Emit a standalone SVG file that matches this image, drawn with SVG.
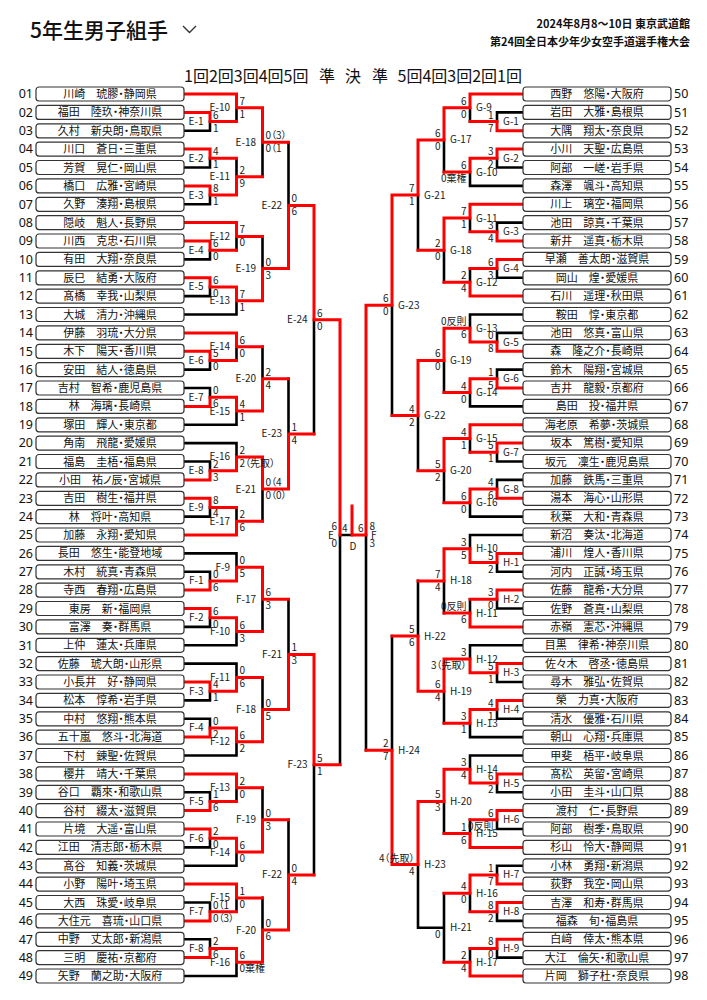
<svg xmlns="http://www.w3.org/2000/svg" width="707" height="1000" viewBox="0 0 707 1000">
<style>
text{font-family:"Noto Sans CJK JP","Noto Sans",sans-serif;fill:#111}
.b{fill:#fff;stroke:#333;stroke-width:1.2}
.n{font-size:11px;text-anchor:middle;font-feature-settings:"palt"}
.nl{font-family:"Noto Sans","Noto Sans CJK JP",sans-serif;font-size:12.5px;text-anchor:end}
.nr{font-family:"Noto Sans","Noto Sans CJK JP",sans-serif;font-size:12.5px}
.ll,.lr,.sl,.sr{font-size:10px;font-feature-settings:"palt";fill:#1a1a1a}
.ll,.sr{text-anchor:end}
.k{fill:none;stroke:#000;stroke-width:2.6;stroke-linecap:square}
.r{fill:none;stroke:#f00;stroke-width:3;stroke-linecap:square}
.t{font-size:21px;font-weight:500}
.h{font-size:11px;font-weight:700;text-anchor:end}
.c{font-size:16px}
</style>
<g id="header">
<text class="t" x="30" y="38">5年生男子組手</text>
<path d="M183 26l6.5 6.5l6.5-6.5" fill="none" stroke="#333" stroke-width="1.4"/>
<text class="h" x="690" y="28">2024年8月8～10日 東京武道館</text>
<text class="h" x="690" y="46">第24回全日本少年少女空手道選手権大会</text>
<text class="c" x="184" y="82">1回2回3回4回5回</text>
<text class="c" x="327" y="82" text-anchor="middle">準</text>
<text class="c" x="353" y="82" text-anchor="middle">決</text>
<text class="c" x="380" y="82" text-anchor="middle">準</text>
<text class="c" x="522" y="82" text-anchor="end">5回4回3回2回1回</text>
</g>
<g id="connectors">
<path class="k" d="M184 130.8H210M184 167.5H210M184 204.3H210M184 259.4H210M184 296.1H210M184 314.5H236.5M184 369.6H210M184 388H210M184 424.8H236.5M184 443.1H236.5M184 461.5H210M184 516.6H210
M210 121.6V130.8M210 158.3V167.5M210 195.1V204.3M210 250.2V259.4M210 286.9V296.1M210 360.4V369.6M210 388V397.2M210 461.5V470.7M210 507.4V516.6
M236.5 107.8V121.6M236.5 158.3V176.7M236.5 236.4V250.2M236.5 300.7V314.5M236.5 346.7V360.4M236.5 411V424.8M236.5 443.1V456.9M236.5 507.4V521.2
M262.5 142.2V176.7M262.5 236.4V268.6M262.5 346.7V378.8M262.5 489.1V521.2M288.5 142.2V205.4M288.5 378.8V433.9M314 319.7V433.9
M184 553.4H236.5M184 571.8H210M184 626.9H210M184 645.3H236.5M184 663.6H236.5M184 700.4H210M184 718.8H210M184 755.5H236.5M184 792.3H210M184 847.4H210M184 865.8H236.5M184 902.5H210M184 939.3H210M184 976H236.5
M210 571.8V580.9M210 617.7V626.9M210 691.2V700.4M210 718.8V727.9M210 792.3V801.4M210 838.2V847.4M210 902.5V911.7M210 939.3V948.4
M236.5 553.4V567.2M236.5 631.5V645.3M236.5 663.6V677.4M236.5 741.7V755.5M236.5 787.7V801.4M236.5 852V865.8M236.5 897.9V911.7M236.5 962.2V976
M262.5 599.3V631.5M262.5 677.4V709.6M262.5 787.7V819.8M262.5 897.9V930.1M288.5 599.3V654.4M288.5 819.8V874.9M314 764.7V874.9
M340 535V764.7M340 535H352M366 535V750.3
M523 112.4H497M523 167.5H497M523 185.9H470M523 222.6H497M523 277.8H497M523 314.5H470M523 332.9H497M523 369.6H497M523 406.4H470M523 461.5H497M523 479.9H497M523 516.6H470
M497 112.4V121.6M497 158.3V167.5M497 222.6V231.8M497 268.6V277.8M497 332.9V342.1M497 369.6V378.8M497 452.3V461.5M497 479.9V489.1
M470 107.8V121.6M470 172.1V185.9M470 218V231.8M470 268.6V282.3M470 314.5V328.3M470 392.6V406.4M470 438.5V452.3M470 502.8V516.6
M444 139.9V172.1M444 250.2V282.3M444 360.4V392.6M444 470.7V502.8M418 195.1V250.2M418 415.6V470.7M392 305.3V415.6
M523 535H470M523 571.8H497M523 608.5H497M523 645.3H470M523 682H497M523 718.8H497M523 737.1H470M523 755.5H470M523 792.3H497M523 829H497M523 865.8H497M523 920.9H497M523 957.6H497
M497 562.6V571.8M497 599.3V608.5M497 672.8V682M497 709.6V718.8M497 783.1V792.3M497 819.8V829M497 865.8V874.9M497 911.7V920.9M497 948.4V957.6
M470 535V548.8M470 599.3V613.1M470 645.3V659M470 723.3V737.1M470 755.5V769.3M470 819.8V833.6M470 893.3V911.7M470 948.4V962.2
M444 580.9V613.1M444 691.2V723.3M444 801.4V833.6M444 893.3V962.2M444 927.8H418M418 580.9V636.1M418 864.6V927.8M392 636.1V750.3"/>
<path class="r" d="M184 94H236.5M184 112.4H210M184 149.1H210M184 185.9H210M184 222.6H236.5M184 241H210M184 277.8H210M184 332.9H236.5M184 351.3H210M184 406.4H210M184 479.9H210M184 498.3H210M184 535H236.5
M210 112.4V121.6H236.5M210 149.1V158.3H236.5M210 185.9V195.1H236.5M210 241V250.2H236.5M210 277.8V286.9H236.5M210 351.3V360.4H236.5M210 406.4V397.2H236.5M210 479.9V470.7H236.5M210 498.3V507.4H236.5
M236.5 94V107.8H262.5M236.5 195.1V176.7H262.5M236.5 222.6V236.4H262.5M236.5 286.9V300.7H262.5M236.5 332.9V346.7H262.5M236.5 397.2V411H262.5M236.5 470.7V456.9H262.5M236.5 535V521.2H262.5
M262.5 107.8V142.2H288.5M262.5 300.7V268.6H288.5M262.5 411V378.8H288.5M262.5 456.9V489.1H288.5M288.5 268.6V205.4H314M288.5 489.1V433.9H314M314 205.4V319.7H340V535
M184 590.1H210M184 608.5H210M184 682H210M184 737.1H210M184 773.9H236.5M184 810.6H210M184 829H210M184 884.1H236.5M184 920.9H210M184 957.6H210
M210 590.1V580.9H236.5M210 608.5V617.7H236.5M210 682V691.2H236.5M210 737.1V727.9H236.5M210 810.6V801.4H236.5M210 829V838.2H236.5M210 920.9V911.7H236.5M210 957.6V948.4H236.5
M236.5 580.9V567.2H262.5M236.5 617.7V631.5H262.5M236.5 691.2V677.4H262.5M236.5 727.9V741.7H262.5M236.5 773.9V787.7H262.5M236.5 838.2V852H262.5M236.5 884.1V897.9H262.5M236.5 948.4V962.2H262.5
M262.5 567.2V599.3H288.5M262.5 741.7V709.6H288.5M262.5 852V819.8H288.5M262.5 962.2V930.1H288.5M288.5 709.6V654.4H314M288.5 930.1V874.9H314M314 654.4V764.7H340
M352 535H366M352 506V535M366 305.3V535
M523 94H470M523 130.8H497M523 149.1H497M523 204.3H470M523 241H497M523 259.4H497M523 296.1H470M523 351.3H497M523 388H497M523 424.8H470M523 443.1H497M523 498.3H497
M497 130.8V121.6H470M497 149.1V158.3H470M497 241V231.8H470M497 259.4V268.6H470M497 351.3V342.1H470M497 388V378.8H470M497 443.1V452.3H470M497 498.3V489.1H470
M470 94V107.8H444M470 158.3V172.1H444M470 204.3V218H444M470 296.1V282.3H444M470 342.1V328.3H444M470 378.8V392.6H444M470 424.8V438.5H444M470 489.1V502.8H444
M444 107.8V139.9H418M444 218V250.2H418M444 328.3V360.4H418M444 438.5V470.7H418M418 139.9V195.1H392M418 360.4V415.6H392M392 195.1V305.3H366
M523 553.4H497M523 590.1H497M523 626.9H470M523 663.6H497M523 700.4H497M523 773.9H497M523 810.6H497M523 847.4H470M523 884.1H497M523 902.5H497M523 939.3H497M523 976H470
M497 553.4V562.6H470M497 590.1V599.3H470M497 663.6V672.8H470M497 700.4V709.6H470M497 773.9V783.1H470M497 810.6V819.8H470M497 884.1V874.9H470M497 902.5V911.7H470M497 939.3V948.4H470
M470 562.6V548.8H444M470 626.9V613.1H444M470 672.8V659H444M470 709.6V723.3H444M470 783.1V769.3H444M470 847.4V833.6H444M470 874.9V893.3H444M470 976V962.2H444
M444 548.8V580.9H418M444 659V691.2H418M444 769.3V801.4H418M418 691.2V636.1H392M418 801.4V864.6H392M392 864.6V750.3H366"/>
</g>
<g id="players-left">
<g id="p01" transform="translate(0 94)"><rect class="b" x="36" y="-7" width="148" height="14" rx="3"/><text class="nl" x="33" y="4.3">01</text><text class="n" x="110" y="4">川崎　琥膠・静岡県</text></g>
<g id="p02" transform="translate(0 112.4)"><rect class="b" x="36" y="-7" width="148" height="14" rx="3"/><text class="nl" x="33" y="4.3">02</text><text class="n" x="110" y="4">福田　陸玖・神奈川県</text></g>
<g id="p03" transform="translate(0 130.8)"><rect class="b" x="36" y="-7" width="148" height="14" rx="3"/><text class="nl" x="33" y="4.3">03</text><text class="n" x="110" y="4">久村　新央朗・鳥取県</text></g>
<g id="p04" transform="translate(0 149.1)"><rect class="b" x="36" y="-7" width="148" height="14" rx="3"/><text class="nl" x="33" y="4.3">04</text><text class="n" x="110" y="4">川口　蒼日・三重県</text></g>
<g id="p05" transform="translate(0 167.5)"><rect class="b" x="36" y="-7" width="148" height="14" rx="3"/><text class="nl" x="33" y="4.3">05</text><text class="n" x="110" y="4">芳賀　晃仁・岡山県</text></g>
<g id="p06" transform="translate(0 185.9)"><rect class="b" x="36" y="-7" width="148" height="14" rx="3"/><text class="nl" x="33" y="4.3">06</text><text class="n" x="110" y="4">橋口　広雅・宮崎県</text></g>
<g id="p07" transform="translate(0 204.3)"><rect class="b" x="36" y="-7" width="148" height="14" rx="3"/><text class="nl" x="33" y="4.3">07</text><text class="n" x="110" y="4">久野　湊翔・島根県</text></g>
<g id="p08" transform="translate(0 222.6)"><rect class="b" x="36" y="-7" width="148" height="14" rx="3"/><text class="nl" x="33" y="4.3">08</text><text class="n" x="110" y="4">隠岐　魁人・長野県</text></g>
<g id="p09" transform="translate(0 241)"><rect class="b" x="36" y="-7" width="148" height="14" rx="3"/><text class="nl" x="33" y="4.3">09</text><text class="n" x="110" y="4">川西　克忠・石川県</text></g>
<g id="p10" transform="translate(0 259.4)"><rect class="b" x="36" y="-7" width="148" height="14" rx="3"/><text class="nl" x="33" y="4.3">10</text><text class="n" x="110" y="4">有田　大翔・奈良県</text></g>
<g id="p11" transform="translate(0 277.8)"><rect class="b" x="36" y="-7" width="148" height="14" rx="3"/><text class="nl" x="33" y="4.3">11</text><text class="n" x="110" y="4">辰巳　結勇・大阪府</text></g>
<g id="p12" transform="translate(0 296.1)"><rect class="b" x="36" y="-7" width="148" height="14" rx="3"/><text class="nl" x="33" y="4.3">12</text><text class="n" x="110" y="4">髙橋　幸我・山梨県</text></g>
<g id="p13" transform="translate(0 314.5)"><rect class="b" x="36" y="-7" width="148" height="14" rx="3"/><text class="nl" x="33" y="4.3">13</text><text class="n" x="110" y="4">大城　清力・沖縄県</text></g>
<g id="p14" transform="translate(0 332.9)"><rect class="b" x="36" y="-7" width="148" height="14" rx="3"/><text class="nl" x="33" y="4.3">14</text><text class="n" x="110" y="4">伊藤　羽琉・大分県</text></g>
<g id="p15" transform="translate(0 351.3)"><rect class="b" x="36" y="-7" width="148" height="14" rx="3"/><text class="nl" x="33" y="4.3">15</text><text class="n" x="110" y="4">木下　陽天・香川県</text></g>
<g id="p16" transform="translate(0 369.6)"><rect class="b" x="36" y="-7" width="148" height="14" rx="3"/><text class="nl" x="33" y="4.3">16</text><text class="n" x="110" y="4">安田　結人・徳島県</text></g>
<g id="p17" transform="translate(0 388)"><rect class="b" x="36" y="-7" width="148" height="14" rx="3"/><text class="nl" x="33" y="4.3">17</text><text class="n" x="110" y="4">吉村　智希・鹿児島県</text></g>
<g id="p18" transform="translate(0 406.4)"><rect class="b" x="36" y="-7" width="148" height="14" rx="3"/><text class="nl" x="33" y="4.3">18</text><text class="n" x="110" y="4">林　海璃・長崎県</text></g>
<g id="p19" transform="translate(0 424.8)"><rect class="b" x="36" y="-7" width="148" height="14" rx="3"/><text class="nl" x="33" y="4.3">19</text><text class="n" x="110" y="4">塚田　輝人・東京都</text></g>
<g id="p20" transform="translate(0 443.1)"><rect class="b" x="36" y="-7" width="148" height="14" rx="3"/><text class="nl" x="33" y="4.3">20</text><text class="n" x="110" y="4">角南　飛龍・愛媛県</text></g>
<g id="p21" transform="translate(0 461.5)"><rect class="b" x="36" y="-7" width="148" height="14" rx="3"/><text class="nl" x="33" y="4.3">21</text><text class="n" x="110" y="4">福島　圭梧・福島県</text></g>
<g id="p22" transform="translate(0 479.9)"><rect class="b" x="36" y="-7" width="148" height="14" rx="3"/><text class="nl" x="33" y="4.3">22</text><text class="n" x="110" y="4">小田　祐ノ辰・宮城県</text></g>
<g id="p23" transform="translate(0 498.3)"><rect class="b" x="36" y="-7" width="148" height="14" rx="3"/><text class="nl" x="33" y="4.3">23</text><text class="n" x="110" y="4">吉田　樹生・福井県</text></g>
<g id="p24" transform="translate(0 516.6)"><rect class="b" x="36" y="-7" width="148" height="14" rx="3"/><text class="nl" x="33" y="4.3">24</text><text class="n" x="110" y="4">林　将叶・高知県</text></g>
<g id="p25" transform="translate(0 535)"><rect class="b" x="36" y="-7" width="148" height="14" rx="3"/><text class="nl" x="33" y="4.3">25</text><text class="n" x="110" y="4">加藤　永翔・愛知県</text></g>
<g id="p26" transform="translate(0 553.4)"><rect class="b" x="36" y="-7" width="148" height="14" rx="3"/><text class="nl" x="33" y="4.3">26</text><text class="n" x="110" y="4">長田　悠生・能登地域</text></g>
<g id="p27" transform="translate(0 571.8)"><rect class="b" x="36" y="-7" width="148" height="14" rx="3"/><text class="nl" x="33" y="4.3">27</text><text class="n" x="110" y="4">木村　統真・青森県</text></g>
<g id="p28" transform="translate(0 590.1)"><rect class="b" x="36" y="-7" width="148" height="14" rx="3"/><text class="nl" x="33" y="4.3">28</text><text class="n" x="110" y="4">寺西　春翔・広島県</text></g>
<g id="p29" transform="translate(0 608.5)"><rect class="b" x="36" y="-7" width="148" height="14" rx="3"/><text class="nl" x="33" y="4.3">29</text><text class="n" x="110" y="4">東房　新・福岡県</text></g>
<g id="p30" transform="translate(0 626.9)"><rect class="b" x="36" y="-7" width="148" height="14" rx="3"/><text class="nl" x="33" y="4.3">30</text><text class="n" x="110" y="4">富澤　奏・群馬県</text></g>
<g id="p31" transform="translate(0 645.3)"><rect class="b" x="36" y="-7" width="148" height="14" rx="3"/><text class="nl" x="33" y="4.3">31</text><text class="n" x="110" y="4">上仲　蓮太・兵庫県</text></g>
<g id="p32" transform="translate(0 663.6)"><rect class="b" x="36" y="-7" width="148" height="14" rx="3"/><text class="nl" x="33" y="4.3">32</text><text class="n" x="110" y="4">佐藤　琥大朗・山形県</text></g>
<g id="p33" transform="translate(0 682)"><rect class="b" x="36" y="-7" width="148" height="14" rx="3"/><text class="nl" x="33" y="4.3">33</text><text class="n" x="110" y="4">小長井　好・静岡県</text></g>
<g id="p34" transform="translate(0 700.4)"><rect class="b" x="36" y="-7" width="148" height="14" rx="3"/><text class="nl" x="33" y="4.3">34</text><text class="n" x="110" y="4">松本　惇希・岩手県</text></g>
<g id="p35" transform="translate(0 718.8)"><rect class="b" x="36" y="-7" width="148" height="14" rx="3"/><text class="nl" x="33" y="4.3">35</text><text class="n" x="110" y="4">中村　悠翔・熊本県</text></g>
<g id="p36" transform="translate(0 737.1)"><rect class="b" x="36" y="-7" width="148" height="14" rx="3"/><text class="nl" x="33" y="4.3">36</text><text class="n" x="110" y="4">五十嵐　悠斗・北海道</text></g>
<g id="p37" transform="translate(0 755.5)"><rect class="b" x="36" y="-7" width="148" height="14" rx="3"/><text class="nl" x="33" y="4.3">37</text><text class="n" x="110" y="4">下村　錬聖・佐賀県</text></g>
<g id="p38" transform="translate(0 773.9)"><rect class="b" x="36" y="-7" width="148" height="14" rx="3"/><text class="nl" x="33" y="4.3">38</text><text class="n" x="110" y="4">櫻井　靖大・千葉県</text></g>
<g id="p39" transform="translate(0 792.3)"><rect class="b" x="36" y="-7" width="148" height="14" rx="3"/><text class="nl" x="33" y="4.3">39</text><text class="n" x="110" y="4">谷口　覇來・和歌山県</text></g>
<g id="p40" transform="translate(0 810.6)"><rect class="b" x="36" y="-7" width="148" height="14" rx="3"/><text class="nl" x="33" y="4.3">40</text><text class="n" x="110" y="4">谷村　綴太・滋賀県</text></g>
<g id="p41" transform="translate(0 829)"><rect class="b" x="36" y="-7" width="148" height="14" rx="3"/><text class="nl" x="33" y="4.3">41</text><text class="n" x="110" y="4">片境　大遥・富山県</text></g>
<g id="p42" transform="translate(0 847.4)"><rect class="b" x="36" y="-7" width="148" height="14" rx="3"/><text class="nl" x="33" y="4.3">42</text><text class="n" x="110" y="4">江田　清志郎・栃木県</text></g>
<g id="p43" transform="translate(0 865.8)"><rect class="b" x="36" y="-7" width="148" height="14" rx="3"/><text class="nl" x="33" y="4.3">43</text><text class="n" x="110" y="4">髙谷　知義・茨城県</text></g>
<g id="p44" transform="translate(0 884.1)"><rect class="b" x="36" y="-7" width="148" height="14" rx="3"/><text class="nl" x="33" y="4.3">44</text><text class="n" x="110" y="4">小野　陽叶・埼玉県</text></g>
<g id="p45" transform="translate(0 902.5)"><rect class="b" x="36" y="-7" width="148" height="14" rx="3"/><text class="nl" x="33" y="4.3">45</text><text class="n" x="110" y="4">大西　珠愛・岐阜県</text></g>
<g id="p46" transform="translate(0 920.9)"><rect class="b" x="36" y="-7" width="148" height="14" rx="3"/><text class="nl" x="33" y="4.3">46</text><text class="n" x="110" y="4">大住元　喜琉・山口県</text></g>
<g id="p47" transform="translate(0 939.3)"><rect class="b" x="36" y="-7" width="148" height="14" rx="3"/><text class="nl" x="33" y="4.3">47</text><text class="n" x="110" y="4">中野　丈太郎・新潟県</text></g>
<g id="p48" transform="translate(0 957.6)"><rect class="b" x="36" y="-7" width="148" height="14" rx="3"/><text class="nl" x="33" y="4.3">48</text><text class="n" x="110" y="4">三明　慶祐・京都府</text></g>
<g id="p49" transform="translate(0 976)"><rect class="b" x="36" y="-7" width="148" height="14" rx="3"/><text class="nl" x="33" y="4.3">49</text><text class="n" x="110" y="4">矢野　蘭之助・大阪府</text></g>
</g>
<g id="players-right">
<g id="p50" transform="translate(0 94)"><rect class="b" x="523" y="-7" width="148" height="14" rx="3"/><text class="nr" x="674" y="4.3">50</text><text class="n" x="597" y="4">西野　悠陽・大阪府</text></g>
<g id="p51" transform="translate(0 112.4)"><rect class="b" x="523" y="-7" width="148" height="14" rx="3"/><text class="nr" x="674" y="4.3">51</text><text class="n" x="597" y="4">岩田　大雅・島根県</text></g>
<g id="p52" transform="translate(0 130.8)"><rect class="b" x="523" y="-7" width="148" height="14" rx="3"/><text class="nr" x="674" y="4.3">52</text><text class="n" x="597" y="4">大隅　翔太・奈良県</text></g>
<g id="p53" transform="translate(0 149.1)"><rect class="b" x="523" y="-7" width="148" height="14" rx="3"/><text class="nr" x="674" y="4.3">53</text><text class="n" x="597" y="4">小川　天聖・広島県</text></g>
<g id="p54" transform="translate(0 167.5)"><rect class="b" x="523" y="-7" width="148" height="14" rx="3"/><text class="nr" x="674" y="4.3">54</text><text class="n" x="597" y="4">阿部　一嵯・岩手県</text></g>
<g id="p55" transform="translate(0 185.9)"><rect class="b" x="523" y="-7" width="148" height="14" rx="3"/><text class="nr" x="674" y="4.3">55</text><text class="n" x="597" y="4">森澤　颯斗・高知県</text></g>
<g id="p56" transform="translate(0 204.3)"><rect class="b" x="523" y="-7" width="148" height="14" rx="3"/><text class="nr" x="674" y="4.3">56</text><text class="n" x="597" y="4">川上　璃空・福岡県</text></g>
<g id="p57" transform="translate(0 222.6)"><rect class="b" x="523" y="-7" width="148" height="14" rx="3"/><text class="nr" x="674" y="4.3">57</text><text class="n" x="597" y="4">池田　諒真・千葉県</text></g>
<g id="p58" transform="translate(0 241)"><rect class="b" x="523" y="-7" width="148" height="14" rx="3"/><text class="nr" x="674" y="4.3">58</text><text class="n" x="597" y="4">新井　遥真・栃木県</text></g>
<g id="p59" transform="translate(0 259.4)"><rect class="b" x="523" y="-7" width="148" height="14" rx="3"/><text class="nr" x="674" y="4.3">59</text><text class="n" x="597" y="4">早瀬　善太朗・滋賀県</text></g>
<g id="p60" transform="translate(0 277.8)"><rect class="b" x="523" y="-7" width="148" height="14" rx="3"/><text class="nr" x="674" y="4.3">60</text><text class="n" x="597" y="4">岡山　煌・愛媛県</text></g>
<g id="p61" transform="translate(0 296.1)"><rect class="b" x="523" y="-7" width="148" height="14" rx="3"/><text class="nr" x="674" y="4.3">61</text><text class="n" x="597" y="4">石川　遥理・秋田県</text></g>
<g id="p62" transform="translate(0 314.5)"><rect class="b" x="523" y="-7" width="148" height="14" rx="3"/><text class="nr" x="674" y="4.3">62</text><text class="n" x="597" y="4">鞍田　惇・東京都</text></g>
<g id="p63" transform="translate(0 332.9)"><rect class="b" x="523" y="-7" width="148" height="14" rx="3"/><text class="nr" x="674" y="4.3">63</text><text class="n" x="597" y="4">池田　悠真・富山県</text></g>
<g id="p64" transform="translate(0 351.3)"><rect class="b" x="523" y="-7" width="148" height="14" rx="3"/><text class="nr" x="674" y="4.3">64</text><text class="n" x="597" y="4">森　隆之介・長崎県</text></g>
<g id="p65" transform="translate(0 369.6)"><rect class="b" x="523" y="-7" width="148" height="14" rx="3"/><text class="nr" x="674" y="4.3">65</text><text class="n" x="597" y="4">鈴木　陽翔・宮城県</text></g>
<g id="p66" transform="translate(0 388)"><rect class="b" x="523" y="-7" width="148" height="14" rx="3"/><text class="nr" x="674" y="4.3">66</text><text class="n" x="597" y="4">吉井　龍毅・京都府</text></g>
<g id="p67" transform="translate(0 406.4)"><rect class="b" x="523" y="-7" width="148" height="14" rx="3"/><text class="nr" x="674" y="4.3">67</text><text class="n" x="597" y="4">島田　投・福井県</text></g>
<g id="p68" transform="translate(0 424.8)"><rect class="b" x="523" y="-7" width="148" height="14" rx="3"/><text class="nr" x="674" y="4.3">68</text><text class="n" x="597" y="4">海老原　希夢・茨城県</text></g>
<g id="p69" transform="translate(0 443.1)"><rect class="b" x="523" y="-7" width="148" height="14" rx="3"/><text class="nr" x="674" y="4.3">69</text><text class="n" x="597" y="4">坂本　篤樹・愛知県</text></g>
<g id="p70" transform="translate(0 461.5)"><rect class="b" x="523" y="-7" width="148" height="14" rx="3"/><text class="nr" x="674" y="4.3">70</text><text class="n" x="597" y="4">坂元　凜生・鹿児島県</text></g>
<g id="p71" transform="translate(0 479.9)"><rect class="b" x="523" y="-7" width="148" height="14" rx="3"/><text class="nr" x="674" y="4.3">71</text><text class="n" x="597" y="4">加藤　鉄馬・三重県</text></g>
<g id="p72" transform="translate(0 498.3)"><rect class="b" x="523" y="-7" width="148" height="14" rx="3"/><text class="nr" x="674" y="4.3">72</text><text class="n" x="597" y="4">湯本　海心・山形県</text></g>
<g id="p73" transform="translate(0 516.6)"><rect class="b" x="523" y="-7" width="148" height="14" rx="3"/><text class="nr" x="674" y="4.3">73</text><text class="n" x="597" y="4">秋葉　大和・青森県</text></g>
<g id="p74" transform="translate(0 535)"><rect class="b" x="523" y="-7" width="148" height="14" rx="3"/><text class="nr" x="674" y="4.3">74</text><text class="n" x="597" y="4">新沼　奏汰・北海道</text></g>
<g id="p75" transform="translate(0 553.4)"><rect class="b" x="523" y="-7" width="148" height="14" rx="3"/><text class="nr" x="674" y="4.3">75</text><text class="n" x="597" y="4">浦川　煌人・香川県</text></g>
<g id="p76" transform="translate(0 571.8)"><rect class="b" x="523" y="-7" width="148" height="14" rx="3"/><text class="nr" x="674" y="4.3">76</text><text class="n" x="597" y="4">河内　正誠・埼玉県</text></g>
<g id="p77" transform="translate(0 590.1)"><rect class="b" x="523" y="-7" width="148" height="14" rx="3"/><text class="nr" x="674" y="4.3">77</text><text class="n" x="597" y="4">佐藤　龍希・大分県</text></g>
<g id="p78" transform="translate(0 608.5)"><rect class="b" x="523" y="-7" width="148" height="14" rx="3"/><text class="nr" x="674" y="4.3">78</text><text class="n" x="597" y="4">佐野　蒼真・山梨県</text></g>
<g id="p79" transform="translate(0 626.9)"><rect class="b" x="523" y="-7" width="148" height="14" rx="3"/><text class="nr" x="674" y="4.3">79</text><text class="n" x="597" y="4">赤嶺　憲芯・沖縄県</text></g>
<g id="p80" transform="translate(0 645.3)"><rect class="b" x="523" y="-7" width="148" height="14" rx="3"/><text class="nr" x="674" y="4.3">80</text><text class="n" x="597" y="4">目黒　律希・神奈川県</text></g>
<g id="p81" transform="translate(0 663.6)"><rect class="b" x="523" y="-7" width="148" height="14" rx="3"/><text class="nr" x="674" y="4.3">81</text><text class="n" x="597" y="4">佐々木　啓丞・徳島県</text></g>
<g id="p82" transform="translate(0 682)"><rect class="b" x="523" y="-7" width="148" height="14" rx="3"/><text class="nr" x="674" y="4.3">82</text><text class="n" x="597" y="4">尋木　雅弘・佐賀県</text></g>
<g id="p83" transform="translate(0 700.4)"><rect class="b" x="523" y="-7" width="148" height="14" rx="3"/><text class="nr" x="674" y="4.3">83</text><text class="n" x="597" y="4">榮　力真・大阪府</text></g>
<g id="p84" transform="translate(0 718.8)"><rect class="b" x="523" y="-7" width="148" height="14" rx="3"/><text class="nr" x="674" y="4.3">84</text><text class="n" x="597" y="4">清水　優雅・石川県</text></g>
<g id="p85" transform="translate(0 737.1)"><rect class="b" x="523" y="-7" width="148" height="14" rx="3"/><text class="nr" x="674" y="4.3">85</text><text class="n" x="597" y="4">朝山　心翔・兵庫県</text></g>
<g id="p86" transform="translate(0 755.5)"><rect class="b" x="523" y="-7" width="148" height="14" rx="3"/><text class="nr" x="674" y="4.3">86</text><text class="n" x="597" y="4">甲斐　梧平・岐阜県</text></g>
<g id="p87" transform="translate(0 773.9)"><rect class="b" x="523" y="-7" width="148" height="14" rx="3"/><text class="nr" x="674" y="4.3">87</text><text class="n" x="597" y="4">髙松　英留・宮崎県</text></g>
<g id="p88" transform="translate(0 792.3)"><rect class="b" x="523" y="-7" width="148" height="14" rx="3"/><text class="nr" x="674" y="4.3">88</text><text class="n" x="597" y="4">小田　圭斗・山口県</text></g>
<g id="p89" transform="translate(0 810.6)"><rect class="b" x="523" y="-7" width="148" height="14" rx="3"/><text class="nr" x="674" y="4.3">89</text><text class="n" x="597" y="4">渡村　仁・長野県</text></g>
<g id="p90" transform="translate(0 829)"><rect class="b" x="523" y="-7" width="148" height="14" rx="3"/><text class="nr" x="674" y="4.3">90</text><text class="n" x="597" y="4">阿部　樹季・鳥取県</text></g>
<g id="p91" transform="translate(0 847.4)"><rect class="b" x="523" y="-7" width="148" height="14" rx="3"/><text class="nr" x="674" y="4.3">91</text><text class="n" x="597" y="4">杉山　怜大・静岡県</text></g>
<g id="p92" transform="translate(0 865.8)"><rect class="b" x="523" y="-7" width="148" height="14" rx="3"/><text class="nr" x="674" y="4.3">92</text><text class="n" x="597" y="4">小林　勇翔・新潟県</text></g>
<g id="p93" transform="translate(0 884.1)"><rect class="b" x="523" y="-7" width="148" height="14" rx="3"/><text class="nr" x="674" y="4.3">93</text><text class="n" x="597" y="4">荻野　我空・岡山県</text></g>
<g id="p94" transform="translate(0 902.5)"><rect class="b" x="523" y="-7" width="148" height="14" rx="3"/><text class="nr" x="674" y="4.3">94</text><text class="n" x="597" y="4">吉澤　和寿・群馬県</text></g>
<g id="p95" transform="translate(0 920.9)"><rect class="b" x="523" y="-7" width="148" height="14" rx="3"/><text class="nr" x="674" y="4.3">95</text><text class="n" x="597" y="4">福森　旬・福島県</text></g>
<g id="p96" transform="translate(0 939.3)"><rect class="b" x="523" y="-7" width="148" height="14" rx="3"/><text class="nr" x="674" y="4.3">96</text><text class="n" x="597" y="4">白﨑　倖太・熊本県</text></g>
<g id="p97" transform="translate(0 957.6)"><rect class="b" x="523" y="-7" width="148" height="14" rx="3"/><text class="nr" x="674" y="4.3">97</text><text class="n" x="597" y="4">大江　倫矢・和歌山県</text></g>
<g id="p98" transform="translate(0 976)"><rect class="b" x="523" y="-7" width="148" height="14" rx="3"/><text class="nr" x="674" y="4.3">98</text><text class="n" x="597" y="4">片岡　獅子杜・奈良県</text></g>
</g>
<g id="matches-left">
<g id="E-1" transform="translate(210 121.6)"><text class="ll" x="-6.5" y="3.5">E-1</text><text class="sl" x="3" y="-3">6</text><text class="sl" x="3" y="10">1</text></g>
<g id="E-2" transform="translate(210 158.3)"><text class="ll" x="-6.5" y="3.5">E-2</text><text class="sl" x="3" y="-3">4</text><text class="sl" x="3" y="10">1</text></g>
<g id="E-3" transform="translate(210 195.1)"><text class="ll" x="-6.5" y="3.5">E-3</text><text class="sl" x="3" y="-3">8</text><text class="sl" x="3" y="10">1</text></g>
<g id="E-4" transform="translate(210 250.2)"><text class="ll" x="-6.5" y="3.5">E-4</text><text class="sl" x="3" y="-3">6</text><text class="sl" x="3" y="10">0</text></g>
<g id="E-5" transform="translate(210 286.9)"><text class="ll" x="-6.5" y="3.5">E-5</text><text class="sl" x="3" y="-3">6</text><text class="sl" x="3" y="10">0</text></g>
<g id="E-6" transform="translate(210 360.4)"><text class="ll" x="-6.5" y="3.5">E-6</text><text class="sl" x="3" y="-3">5</text><text class="sl" x="3" y="10">0</text></g>
<g id="E-7" transform="translate(210 397.2)"><text class="ll" x="-6.5" y="3.5">E-7</text><text class="sl" x="3" y="-3">0</text><text class="sl" x="3" y="10">6</text></g>
<g id="E-8" transform="translate(210 470.7)"><text class="ll" x="-6.5" y="3.5">E-8</text><text class="sl" x="3" y="-3">2</text><text class="sl" x="3" y="10">3</text></g>
<g id="E-9" transform="translate(210 507.4)"><text class="ll" x="-6.5" y="3.5">E-9</text><text class="sl" x="3" y="-3">8</text><text class="sl" x="3" y="10">4</text></g>
<g id="E-10" transform="translate(236.5 107.8)"><text class="ll" x="-6.5" y="3.5">E-10</text><text class="sl" x="3" y="-3">7</text><text class="sl" x="3" y="10">1</text></g>
<g id="E-11" transform="translate(236.5 176.7)"><text class="ll" x="-6.5" y="3.5">E-11</text><text class="sl" x="3" y="-3">2</text><text class="sl" x="3" y="10">9</text></g>
<g id="E-12" transform="translate(236.5 236.4)"><text class="ll" x="-6.5" y="3.5">E-12</text><text class="sl" x="3" y="-3">7</text><text class="sl" x="3" y="10">0</text></g>
<g id="E-13" transform="translate(236.5 300.7)"><text class="ll" x="-6.5" y="3.5">E-13</text><text class="sl" x="3" y="-3">7</text><text class="sl" x="3" y="10">1</text></g>
<g id="E-14" transform="translate(236.5 346.7)"><text class="ll" x="-6.5" y="3.5">E-14</text><text class="sl" x="3" y="-3">6</text><text class="sl" x="3" y="10">0</text></g>
<g id="E-15" transform="translate(236.5 411)"><text class="ll" x="-6.5" y="3.5">E-15</text><text class="sl" x="3" y="-3">4</text><text class="sl" x="3" y="10">1</text></g>
<g id="E-16" transform="translate(236.5 456.9)"><text class="ll" x="-6.5" y="3.5">E-16</text><text class="sl" x="3" y="-3">2</text><text class="sl" x="3" y="10">2（先取）</text></g>
<g id="E-17" transform="translate(236.5 521.2)"><text class="ll" x="-6.5" y="3.5">E-17</text><text class="sl" x="3" y="-3">2</text><text class="sl" x="3" y="10">6</text></g>
<g id="E-18" transform="translate(262.5 142.2)"><text class="ll" x="-6.5" y="3.5">E-18</text><text class="sl" x="3" y="-3">0（3）</text><text class="sl" x="3" y="10">0（1</text></g>
<g id="E-19" transform="translate(262.5 268.6)"><text class="ll" x="-6.5" y="3.5">E-19</text><text class="sl" x="3" y="-3">0</text><text class="sl" x="3" y="10">3</text></g>
<g id="E-20" transform="translate(262.5 378.8)"><text class="ll" x="-6.5" y="3.5">E-20</text><text class="sl" x="3" y="-3">2</text><text class="sl" x="3" y="10">4</text></g>
<g id="E-21" transform="translate(262.5 489.1)"><text class="ll" x="-6.5" y="3.5">E-21</text><text class="sl" x="3" y="-3">0（4</text><text class="sl" x="3" y="10">0（0）</text></g>
<g id="E-22" transform="translate(288.5 205.4)"><text class="ll" x="-6.5" y="3.5">E-22</text><text class="sl" x="3" y="-3">0</text><text class="sl" x="3" y="10">6</text></g>
<g id="E-23" transform="translate(288.5 433.9)"><text class="ll" x="-6.5" y="3.5">E-23</text><text class="sl" x="3" y="-3">1</text><text class="sl" x="3" y="10">4</text></g>
<g id="E-24" transform="translate(314 319.7)"><text class="ll" x="-6.5" y="3.5">E-24</text><text class="sl" x="3" y="-3">6</text><text class="sl" x="3" y="10">0</text></g>
<g id="F-1" transform="translate(210 580.9)"><text class="ll" x="-6.5" y="3.5">F-1</text><text class="sl" x="3" y="-3">0</text><text class="sl" x="3" y="10">6</text></g>
<g id="F-2" transform="translate(210 617.7)"><text class="ll" x="-6.5" y="3.5">F-2</text><text class="sl" x="3" y="-3">6</text><text class="sl" x="3" y="10">0</text></g>
<g id="F-3" transform="translate(210 691.2)"><text class="ll" x="-6.5" y="3.5">F-3</text><text class="sl" x="3" y="-3">4</text><text class="sl" x="3" y="10">1</text></g>
<g id="F-4" transform="translate(210 727.9)"><text class="ll" x="-6.5" y="3.5">F-4</text><text class="sl" x="3" y="-3">0</text><text class="sl" x="3" y="10">2</text></g>
<g id="F-5" transform="translate(210 801.4)"><text class="ll" x="-6.5" y="3.5">F-5</text><text class="sl" x="3" y="-3">1</text><text class="sl" x="3" y="10">6</text></g>
<g id="F-6" transform="translate(210 838.2)"><text class="ll" x="-6.5" y="3.5">F-6</text><text class="sl" x="3" y="-3">2</text><text class="sl" x="3" y="10">0</text></g>
<g id="F-7" transform="translate(210 911.7)"><text class="ll" x="-6.5" y="3.5">F-7</text><text class="sl" x="3" y="-3">0（1</text><text class="sl" x="3" y="10">0（3）</text></g>
<g id="F-8" transform="translate(210 948.4)"><text class="ll" x="-6.5" y="3.5">F-8</text><text class="sl" x="3" y="-3">2</text><text class="sl" x="3" y="10">6</text></g>
<g id="F-9" transform="translate(236.5 567.2)"><text class="ll" x="-6.5" y="3.5">F-9</text><text class="sl" x="3" y="-3">0</text><text class="sl" x="3" y="10">5</text></g>
<g id="F-10" transform="translate(236.5 631.5)"><text class="ll" x="-6.5" y="3.5">F-10</text><text class="sl" x="3" y="-3">6</text><text class="sl" x="3" y="10">3</text></g>
<g id="F-11" transform="translate(236.5 677.4)"><text class="ll" x="-6.5" y="3.5">F-11</text><text class="sl" x="3" y="-3">0</text><text class="sl" x="3" y="10">6</text></g>
<g id="F-12" transform="translate(236.5 741.7)"><text class="ll" x="-6.5" y="3.5">F-12</text><text class="sl" x="3" y="-3">6</text><text class="sl" x="3" y="10">2</text></g>
<g id="F-13" transform="translate(236.5 787.7)"><text class="ll" x="-6.5" y="3.5">F-13</text><text class="sl" x="3" y="-3">2</text><text class="sl" x="3" y="10">0</text></g>
<g id="F-14" transform="translate(236.5 852)"><text class="ll" x="-6.5" y="3.5">F-14</text><text class="sl" x="3" y="-3">6</text><text class="sl" x="3" y="10">0</text></g>
<g id="F-15" transform="translate(236.5 897.9)"><text class="ll" x="-6.5" y="3.5">F-15</text><text class="sl" x="3" y="-3">1</text><text class="sl" x="3" y="10">0</text></g>
<g id="F-16" transform="translate(236.5 962.2)"><text class="ll" x="-6.5" y="3.5">F-16</text><text class="sl" x="3" y="-3">6</text><text class="sl" x="3" y="10">0棄権</text></g>
<g id="F-17" transform="translate(262.5 599.3)"><text class="ll" x="-6.5" y="3.5">F-17</text><text class="sl" x="3" y="-3">6</text><text class="sl" x="3" y="10">3</text></g>
<g id="F-18" transform="translate(262.5 709.6)"><text class="ll" x="-6.5" y="3.5">F-18</text><text class="sl" x="3" y="-3">0</text><text class="sl" x="3" y="10">5</text></g>
<g id="F-19" transform="translate(262.5 819.8)"><text class="ll" x="-6.5" y="3.5">F-19</text><text class="sl" x="3" y="-3">0</text><text class="sl" x="3" y="10">3</text></g>
<g id="F-20" transform="translate(262.5 930.1)"><text class="ll" x="-6.5" y="3.5">F-20</text><text class="sl" x="3" y="-3">0</text><text class="sl" x="3" y="10">6</text></g>
<g id="F-21" transform="translate(288.5 654.4)"><text class="ll" x="-6.5" y="3.5">F-21</text><text class="sl" x="3" y="-3">1</text><text class="sl" x="3" y="10">3</text></g>
<g id="F-22" transform="translate(288.5 874.9)"><text class="ll" x="-6.5" y="3.5">F-22</text><text class="sl" x="3" y="-3">0</text><text class="sl" x="3" y="10">4</text></g>
<g id="F-23" transform="translate(314 764.7)"><text class="ll" x="-6.5" y="3.5">F-23</text><text class="sl" x="3" y="-3">5</text><text class="sl" x="3" y="10">1</text></g>
</g>
<g id="matches-right">
<g id="G-1" transform="translate(497 121.6)"><text class="lr" x="6" y="3.5">G-1</text><text class="sr" x="-3.5" y="-3">1</text><text class="sr" x="-3.5" y="10">7</text></g>
<g id="G-2" transform="translate(497 158.3)"><text class="lr" x="6" y="3.5">G-2</text><text class="sr" x="-3.5" y="-3">3</text><text class="sr" x="-3.5" y="10">2</text></g>
<g id="G-3" transform="translate(497 231.8)"><text class="lr" x="6" y="3.5">G-3</text><text class="sr" x="-3.5" y="-3">3</text><text class="sr" x="-3.5" y="10">4</text></g>
<g id="G-4" transform="translate(497 268.6)"><text class="lr" x="6" y="3.5">G-4</text><text class="sr" x="-3.5" y="-3">6</text><text class="sr" x="-3.5" y="10">3</text></g>
<g id="G-5" transform="translate(497 342.1)"><text class="lr" x="6" y="3.5">G-5</text><text class="sr" x="-3.5" y="-3">0</text><text class="sr" x="-3.5" y="10">8</text></g>
<g id="G-6" transform="translate(497 378.8)"><text class="lr" x="6" y="3.5">G-6</text><text class="sr" x="-3.5" y="-3">1</text><text class="sr" x="-3.5" y="10">5</text></g>
<g id="G-7" transform="translate(497 452.3)"><text class="lr" x="6" y="3.5">G-7</text><text class="sr" x="-3.5" y="-3">5</text><text class="sr" x="-3.5" y="10">1</text></g>
<g id="G-8" transform="translate(497 489.1)"><text class="lr" x="6" y="3.5">G-8</text><text class="sr" x="-3.5" y="-3">4</text><text class="sr" x="-3.5" y="10">6</text></g>
<g id="G-9" transform="translate(470 107.8)"><text class="lr" x="6" y="3.5">G-9</text><text class="sr" x="-3.5" y="-3">6</text><text class="sr" x="-3.5" y="10">0</text></g>
<g id="G-10" transform="translate(470 172.1)"><text class="lr" x="6" y="3.5">G-10</text><text class="sr" x="-3.5" y="-3">6</text><text class="sr" x="-3.5" y="10">0棄権</text></g>
<g id="G-11" transform="translate(470 218)"><text class="lr" x="6" y="3.5">G-11</text><text class="sr" x="-3.5" y="-3">7</text><text class="sr" x="-3.5" y="10">1</text></g>
<g id="G-12" transform="translate(470 282.3)"><text class="lr" x="6" y="3.5">G-12</text><text class="sr" x="-3.5" y="-3">2</text><text class="sr" x="-3.5" y="10">4</text></g>
<g id="G-13" transform="translate(470 328.3)"><text class="lr" x="6" y="3.5">G-13</text><text class="sr" x="-3.5" y="-3">0反則</text><text class="sr" x="-3.5" y="10">6</text></g>
<g id="G-14" transform="translate(470 392.6)"><text class="lr" x="6" y="3.5">G-14</text><text class="sr" x="-3.5" y="-3">4</text><text class="sr" x="-3.5" y="10">0</text></g>
<g id="G-15" transform="translate(470 438.5)"><text class="lr" x="6" y="3.5">G-15</text><text class="sr" x="-3.5" y="-3">4</text><text class="sr" x="-3.5" y="10">1</text></g>
<g id="G-16" transform="translate(470 502.8)"><text class="lr" x="6" y="3.5">G-16</text><text class="sr" x="-3.5" y="-3">6</text><text class="sr" x="-3.5" y="10">0</text></g>
<g id="G-17" transform="translate(444 139.9)"><text class="lr" x="6" y="3.5">G-17</text><text class="sr" x="-3.5" y="-3">6</text><text class="sr" x="-3.5" y="10">0</text></g>
<g id="G-18" transform="translate(444 250.2)"><text class="lr" x="6" y="3.5">G-18</text><text class="sr" x="-3.5" y="-3">2</text><text class="sr" x="-3.5" y="10">0</text></g>
<g id="G-19" transform="translate(444 360.4)"><text class="lr" x="6" y="3.5">G-19</text><text class="sr" x="-3.5" y="-3">6</text><text class="sr" x="-3.5" y="10">0</text></g>
<g id="G-20" transform="translate(444 470.7)"><text class="lr" x="6" y="3.5">G-20</text><text class="sr" x="-3.5" y="-3">5</text><text class="sr" x="-3.5" y="10">2</text></g>
<g id="G-21" transform="translate(418 195.1)"><text class="lr" x="6" y="3.5">G-21</text><text class="sr" x="-3.5" y="-3">7</text><text class="sr" x="-3.5" y="10">1</text></g>
<g id="G-22" transform="translate(418 415.6)"><text class="lr" x="6" y="3.5">G-22</text><text class="sr" x="-3.5" y="-3">4</text><text class="sr" x="-3.5" y="10">2</text></g>
<g id="G-23" transform="translate(392 305.3)"><text class="lr" x="6" y="3.5">G-23</text><text class="sr" x="-3.5" y="-3">6</text><text class="sr" x="-3.5" y="10">0</text></g>
<g id="H-1" transform="translate(497 562.6)"><text class="lr" x="6" y="3.5">H-1</text><text class="sr" x="-3.5" y="-3">5</text><text class="sr" x="-3.5" y="10">2</text></g>
<g id="H-2" transform="translate(497 599.3)"><text class="lr" x="6" y="3.5">H-2</text><text class="sr" x="-3.5" y="-3">3</text><text class="sr" x="-3.5" y="10">0</text></g>
<g id="H-3" transform="translate(497 672.8)"><text class="lr" x="6" y="3.5">H-3</text><text class="sr" x="-3.5" y="-3">5</text><text class="sr" x="-3.5" y="10">1</text></g>
<g id="H-4" transform="translate(497 709.6)"><text class="lr" x="6" y="3.5">H-4</text><text class="sr" x="-3.5" y="-3">4</text><text class="sr" x="-3.5" y="10">1</text></g>
<g id="H-5" transform="translate(497 783.1)"><text class="lr" x="6" y="3.5">H-5</text><text class="sr" x="-3.5" y="-3">6</text><text class="sr" x="-3.5" y="10">2</text></g>
<g id="H-6" transform="translate(497 819.8)"><text class="lr" x="6" y="3.5">H-6</text><text class="sr" x="-3.5" y="-3">6</text><text class="sr" x="-3.5" y="10">0反則</text></g>
<g id="H-7" transform="translate(497 874.9)"><text class="lr" x="6" y="3.5">H-7</text><text class="sr" x="-3.5" y="-3">1</text><text class="sr" x="-3.5" y="10">7</text></g>
<g id="H-8" transform="translate(497 911.7)"><text class="lr" x="6" y="3.5">H-8</text><text class="sr" x="-3.5" y="-3">8</text><text class="sr" x="-3.5" y="10">2</text></g>
<g id="H-9" transform="translate(497 948.4)"><text class="lr" x="6" y="3.5">H-9</text><text class="sr" x="-3.5" y="-3">8</text><text class="sr" x="-3.5" y="10">0</text></g>
<g id="H-10" transform="translate(470 548.8)"><text class="lr" x="6" y="3.5">H-10</text><text class="sr" x="-3.5" y="-3">3</text><text class="sr" x="-3.5" y="10">5</text></g>
<g id="H-11" transform="translate(470 613.1)"><text class="lr" x="6" y="3.5">H-11</text><text class="sr" x="-3.5" y="-3">0反則</text><text class="sr" x="-3.5" y="10">6</text></g>
<g id="H-12" transform="translate(470 659)"><text class="lr" x="6" y="3.5">H-12</text><text class="sr" x="-3.5" y="-3">3</text><text class="sr" x="-3.5" y="10">3（先取）</text></g>
<g id="H-13" transform="translate(470 723.3)"><text class="lr" x="6" y="3.5">H-13</text><text class="sr" x="-3.5" y="-3">3</text><text class="sr" x="-3.5" y="10">1</text></g>
<g id="H-14" transform="translate(470 769.3)"><text class="lr" x="6" y="3.5">H-14</text><text class="sr" x="-3.5" y="-3">3</text><text class="sr" x="-3.5" y="10">4</text></g>
<g id="H-15" transform="translate(470 833.6)"><text class="lr" x="6" y="3.5">H-15</text><text class="sr" x="-3.5" y="-3">1</text><text class="sr" x="-3.5" y="10">6</text></g>
<g id="H-16" transform="translate(470 893.3)"><text class="lr" x="6" y="3.5">H-16</text><text class="sr" x="-3.5" y="-3">4</text><text class="sr" x="-3.5" y="10">0</text></g>
<g id="H-17" transform="translate(470 962.2)"><text class="lr" x="6" y="3.5">H-17</text><text class="sr" x="-3.5" y="-3">2</text><text class="sr" x="-3.5" y="10">4</text></g>
<g id="H-18" transform="translate(444 580.9)"><text class="lr" x="6" y="3.5">H-18</text><text class="sr" x="-3.5" y="-3">7</text><text class="sr" x="-3.5" y="10">4</text></g>
<g id="H-19" transform="translate(444 691.2)"><text class="lr" x="6" y="3.5">H-19</text><text class="sr" x="-3.5" y="-3">6</text><text class="sr" x="-3.5" y="10">4</text></g>
<g id="H-20" transform="translate(444 801.4)"><text class="lr" x="6" y="3.5">H-20</text><text class="sr" x="-3.5" y="-3">5</text><text class="sr" x="-3.5" y="10">3</text></g>
<g id="H-21" transform="translate(444 927.8)"><text class="lr" x="6" y="3.5">H-21</text><text class="sr" x="-3.5" y="10">0</text></g>
<g id="H-22" transform="translate(418 636.1)"><text class="lr" x="6" y="3.5">H-22</text><text class="sr" x="-3.5" y="-3">5</text><text class="sr" x="-3.5" y="10">6</text></g>
<g id="H-23" transform="translate(418 864.6)"><text class="lr" x="6" y="3.5">H-23</text><text class="sr" x="-3.5" y="-3">4（先取）</text><text class="sr" x="-3.5" y="10">4</text></g>
<g id="H-24" transform="translate(392 750.3)"><text class="lr" x="6" y="3.5">H-24</text><text class="sr" x="-3.5" y="-3">2</text><text class="sr" x="-3.5" y="10">7</text></g>
</g>
<g id="finals">
<text class="sr" x="337" y="530.3">6</text><text class="sr" x="334" y="538.6">E</text><text class="sr" x="337" y="546.9">0</text>
<text class="sl" x="369.5" y="530.3">8</text><text class="sl" x="371" y="538.6">F</text><text class="sl" x="369.5" y="546.9">3</text>
<text class="sl" x="342" y="532">4</text><text class="sr" x="363.5" y="532">6</text>
<text class="sl" x="353" y="550.3" text-anchor="middle">D</text>
</g>
</svg>
